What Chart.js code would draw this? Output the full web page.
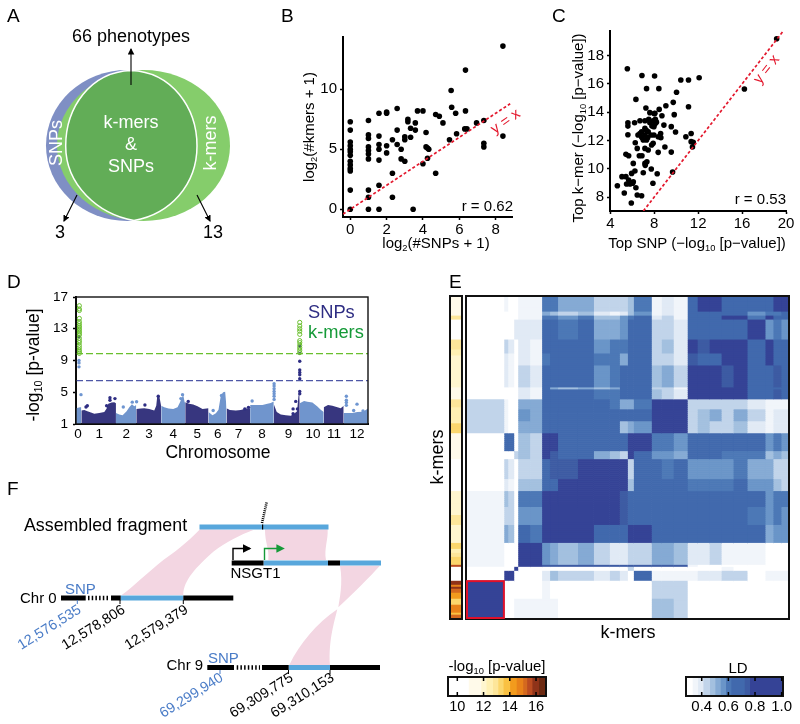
<!DOCTYPE html>
<html>
<head>
<meta charset="utf-8">
<script src="https://cdn.jsdelivr.net/npm/chart.js@4/dist/chart.umd.js"></script>
<style>
body { margin: 0; background: #fff; width: 800px; height: 724px; overflow: hidden; position: relative; }
canvas { position: absolute; }
svg { position: absolute; left: 0; top: 0; }
text { font-family: "Liberation Sans", Arial, sans-serif; fill: #000; }
.w text, text.w { fill: #fff; }
.sub { font-size: 0.62em; }
</style>
</head>
<body>
<div id="plots"></div>

<svg width="800" height="724" viewBox="0 0 800 724">
  <defs>
    <marker id="head" markerWidth="7" markerHeight="7" refX="5" refY="3" orient="auto"><path d="M0,0 L6,3 L0,6 Z" fill="#000"/></marker>
    <marker id="headG" markerWidth="7" markerHeight="7" refX="4" refY="3" orient="auto"><path d="M0,0 L6,3 L0,6 Z" fill="#159a38"/></marker>
  </defs>

  <!-- panel letters -->
  <g font-size="19">
    <text x="7" y="22">A</text><text x="281" y="22">B</text><text x="552" y="22">C</text>
    <text x="7" y="288">D</text><text x="449" y="288">E</text><text x="7" y="495">F</text>
  </g>

  <!-- A: venn -->
  <ellipse cx="127" cy="145.5" rx="81" ry="75.5" fill="#7f8fc4"/>
  <ellipse cx="143.5" cy="145.5" rx="86.5" ry="75.5" fill="#85cd6b"/>
  <path d="M131,70.5 C172,72 197,108 197,146 C197,185 170,214 134,220.5 C98,214 65.7,185 65.7,146 C65.7,108 90,72 131,70.5 Z" fill="#62ad57" stroke="#fff" stroke-width="1.5"/>
  <g font-size="18" text-anchor="middle">
    <text x="131" y="42">66 phenotypes</text>
    <text class="w" x="131" y="128">k-mers</text>
    <text class="w" x="131" y="150">&amp;</text>
    <text class="w" x="131" y="172">SNPs</text>
    <text class="w" transform="translate(62,143) rotate(-90)">SNPs</text>
    <text class="w" transform="translate(216,143) rotate(-90)">k-mers</text>
    <text x="60" y="238">3</text>
    <text x="213" y="238">13</text>
  </g>
  <g stroke="#000" stroke-width="1.1" fill="none" marker-end="url(#head)">
    <line x1="131" y1="85" x2="131" y2="49"/>
    <line x1="77" y1="195" x2="64" y2="221"/>
    <line x1="197" y1="195" x2="210" y2="221"/>
  </g>

  <!-- B labels -->
  <g font-size="15">
    <text text-anchor="middle" x="436" y="248">log<tspan class="sub" dy="3">2</tspan><tspan dy="-3">(#SNPs + 1)</tspan></text>
    <text text-anchor="middle" transform="translate(314,127) rotate(-90)">log<tspan class="sub" dy="3">2</tspan><tspan dy="-3">(#kmers + 1)</tspan></text>
    <text text-anchor="end" x="513" y="211">r = 0.62</text>
    <text text-anchor="middle" transform="translate(508,125) rotate(-35)" style="fill:#e3182d">y = x</text>
  </g>

  <!-- C labels -->
  <g font-size="15">
    <text text-anchor="middle" x="697" y="248">Top SNP (−log<tspan class="sub" dy="3">10</tspan><tspan dy="-3"> [p−value])</tspan></text>
    <text text-anchor="middle" transform="translate(583,128) rotate(-90)">Top k−mer (−log<tspan class="sub" dy="3">10</tspan><tspan dy="-3"> [p−value])</tspan></text>
    <text text-anchor="end" x="786" y="204">r = 0.53</text>
    <text text-anchor="middle" transform="translate(770,72) rotate(-52)" style="fill:#e3182d">y = x</text>
  </g>

  <!-- D labels -->
  <text font-size="17.5" text-anchor="middle" transform="translate(39,365) rotate(-90)">-log<tspan class="sub" dy="3">10</tspan><tspan dy="-3"> [p-value]</tspan></text>
  <text font-size="17.5" text-anchor="middle" x="218" y="458">Chromosome</text>
  <text font-size="18.3" x="308" y="318" style="fill:#2e2d83">SNPs</text>
  <text font-size="18.3" x="308" y="338" style="fill:#159a38">k-mers</text>

  <!-- E labels -->
  <text font-size="18" text-anchor="middle" x="628" y="638">k-mers</text>
  <text font-size="18" text-anchor="middle" transform="translate(443,457) rotate(-90)">k-mers</text>
  <text font-size="15" text-anchor="middle" x="497" y="671">-log<tspan class="sub" dy="3">10</tspan><tspan dy="-3"> [p-value]</tspan></text>
  <text font-size="15" text-anchor="middle" x="738" y="673">LD</text>

  <!-- F: ribbons -->
  <g transform="translate(0,480) scale(0.3333)" fill="#f3d6e2">
    <path d="M600,148 C560,190 520,220 490,240 C440,280 400,320 365,345 L550,345 C550,300 590,260 640,215 C680,185 720,165 760,150 Z"/>
    <path d="M795,148 C795,190 808,205 805,240 L978,240 C972,205 985,180 983,148 Z"/>
    <path d="M1020,257 C1030,310 1018,360 1015,382 C1060,340 1110,290 1140,257 Z"/>
    <path d="M1012,388 C950,430 900,490 868,555 L990,555 C985,480 1005,420 1012,388 Z"/>
  </g>
  <!-- F: tracks -->
  <g fill="#58a7dc">
    <rect x="199.5" y="524.5" width="129" height="5"/>
    <rect x="263.5" y="560.5" width="64.5" height="5"/>
    <rect x="340" y="560.5" width="41" height="5"/>
    <rect x="120.7" y="595.5" width="62.6" height="5"/>
    <rect x="288.7" y="665" width="41.3" height="5"/>
  </g>
  <g fill="#000">
    <rect x="262" y="524.5" width="1.2" height="5"/>
    <rect x="231.7" y="560.5" width="31.8" height="5"/>
    <rect x="328" y="560.5" width="12" height="5"/>
    <rect x="61" y="595.5" width="24.7" height="5"/>
    <rect x="111" y="595.5" width="9.7" height="5"/>
    <rect x="183.3" y="595.5" width="50" height="5"/>
    <rect x="207.3" y="665" width="26.7" height="5"/>
    <rect x="262" y="665" width="26.7" height="5"/>
    <rect x="330" y="665" width="50" height="5"/>
  </g>
  <g stroke="#000" fill="none">
    <line x1="262" y1="523" x2="266.7" y2="502" stroke-width="2.6" stroke-dasharray="1,1"/>
    <line x1="88" y1="598" x2="110" y2="598" stroke-width="4.5" stroke-dasharray="1.5,2.2"/>
    <line x1="236.7" y1="667.5" x2="260" y2="667.5" stroke-width="4.5" stroke-dasharray="1.5,2.2"/>
    <path d="M233,560 V548.5 H250" stroke-width="1.4" marker-end="url(#head)"/>
    <path d="M264.5,560 V548.5 H282" stroke="#159a38" stroke-width="1.4" marker-end="url(#headG)"/>
    <path d="M120,600 V604 M183.3,600 V604 M288.5,670 V674 M330,670 V674" stroke-width="1"/>
    <path d="M77.3,600 V604 M220,670 V674" stroke="#4a7cc7" stroke-width="1"/>
  </g>
  <text font-size="17.8" x="24" y="531">Assembled fragment</text>
  <text font-size="15" x="230.5" y="578">NSGT1</text>
  <text font-size="15" x="20" y="602.5">Chr 0</text>
  <text font-size="15" x="166.5" y="669.5">Chr 9</text>
  <text font-size="15" x="65" y="594" style="fill:#4a7cc7">SNP</text>
  <text font-size="15" x="208" y="663" style="fill:#4a7cc7">SNP</text>
  <g font-size="14.3" text-anchor="end">
    <text transform="translate(82,612) rotate(-32)" style="fill:#4a7cc7">12,576,535</text>
    <text transform="translate(126,612) rotate(-32)">12,578,806</text>
    <text transform="translate(189,612) rotate(-32)">12,579,379</text>
    <text transform="translate(224,680) rotate(-32)" style="fill:#4a7cc7">69,299,940</text>
    <text transform="translate(294,680) rotate(-32)">69,309,775</text>
    <text transform="translate(335,680) rotate(-32)">69,310,153</text>
  </g>
</svg>

<script>
// B: top hits per phenotype
const bSnpLog = [0,0,0,0,0,0,0,0,0,0,0,0,0, 1,1,1,1,1,1,1,1,1,1, 1.58,1.58,1.58,1.58,1.58,1.58,1.58, 2,2,2,2, 2.32,2.32,2.32, 2.58,2.58,2.58, 2.8,2.8, 3,3,3, 3.17,3.17, 3.32,3.32, 3.46, 3.58,3.58, 3.7, 4,4, 4.17,4.17, 4.25,4.25, 4.32, 4.7,4.7, 4.9, 5.1, 5.46, 5.55, 5.58, 5.8, 5.85, 6.3, 6.34,6.34, 6.42, 6.95, 7.35,7.35,7.35, 8.4,8.4];
const bKmerLog = [0,1.6,3.2,3.4,3.7,4,4.5,4.8,5,5.3,5.6,6.6,7.3, 0,1,1.6,4.2,4.6,4.9,5.2,5.9,6.2,7.4, 0,2,4.1,5,5.4,6.1,8, 4.7,5.3,8,8.1, 1,3,5.8, 5.4,6.6,8.4, 5,4.2, 4,5.8,6.05, 7.5,7.3, 6.75,6, 0, 7.2,6.6, 8.2, 8.2,3.8, 6.4,5.2, 4.25,5.1, 5, 3,7.9, 7.75, 7.2, 5.8, 9.9, 8.5, 8, 6.3, 6.7, 11.6,8.2, 6.7, 7.2, 7.4,5.5,5.2, 13.6,6.1];
const bXTicks = [0, 2, 4, 6, 8];
const bYTicks = [0, 5, 10];

// C: strongest association per phenotype
const cSnpTop = [5.55,6.88,8.03,7.3,8.42,6.33,10.42,11.12,12.09,10.03,9.73,9.06,11.12,7.24,8.45,7.6,8.06,8.7,9.82,5.6,5.6,6.21,6.7,7.15,7.6,8.06,7.97,7.79,8.88,9.55,9.94,5.6,6.52,6.85,7.15,7.45,7.7,7.15,6.85,7,7.3,7.97,8.36,8.58,10.88,11.36,6.27,6.45,7.15,7.76,7.45,8.36,8.97,9.55,11.36,11.55,11.48,5.42,5.67,6.64,6.88,6.09,7.15,7.33,7.18,7.73,9.67,6.24,5.94,7,8.27,5.06,5.42,5.67,6.09,5.48,5.79,4.64,6.03,6.33,7.88,5.27,6.45,6.85,5.91,19.15,16.21,6.7,7.3,7.5,8.1,7.9,8.2,8,6.9,7.4,8.6,7.9];
const cKmerTop = [17.08,16.6,16.56,15.67,15.67,14.91,16.28,16.28,16.44,15.41,14.7,14.46,14.39,14.3,14.2,13.97,13.92,13.75,13.83,13.26,13.02,13.26,13.4,13.4,13.26,13.17,12.98,13.02,13.09,12.98,12.6,12.41,12.39,12.62,12.86,12.62,12.39,12.39,12.27,12.03,12.03,12.39,12.27,12.5,12.27,12.5,11.84,11.44,11.44,11.68,11.33,11.16,11.54,11.18,11.92,11.87,11.54,11.02,10.92,10.92,10.92,10.38,10.38,10.5,10.24,9.98,9.77,9.84,9.67,9.72,9.65,9.44,9.44,9.2,9.08,8.92,8.92,8.8,8.97,8.66,8.97,8.28,8.14,8.09,7.58,19.2,15.64,12.5,12.7,13.5,13.5,13.4,13.3,13.9,12.2,12.2,12.2,11.8];
const cXTicks = [4, 8, 12, 16, 20];
const cYTicks = [8, 10, 12, 14, 16, 18];

// D: manhattan plot, positions along the genome
const chromLabels = ['0','1','2','3','4','5','6','7','8','9','10','11','12'];
const chromEdges = [0,16,120,181,256,328,398,452,523,594,672,744,804,877];
const chromCentres = [6,70,151,219,292,364,426,488,559,638,712,775,844];
const manhattanPos = [0,6,12,16, 16,25,34,45,55,70,85,92,97,107,115,120, 120,130,140,152,160,168,175,181, 181,195,205,220,235,241,244,250,256, 256,265,278,292,305,312,318,322,326,328, 328,340,352,365,380,398, 398,410,420,428,435,442,448,452, 452,462,480,495,510,523, 523,540,560,575,585,592,594, 594,603,615,630,645,655,664,668,671,672, 672,685,695,710,725,735,744, 744,757,770,785,795,804, 804,815,830,845,862,877];
const manhattanTop = [3.0,3.05,3.1,3.1, 2.7,2.75,2.6,2.45,2.3,2.4,2.5,2.95,3.55,3.7,3.75,3.6, 2.4,2.2,2.1,2.6,3.1,3.5,3.25,3.4, 2.9,2.95,3.0,2.9,2.7,3.3,4.5,4.55,3.2, 3.3,3.1,2.95,2.9,3.1,3.7,4.3,4.7,3.8,3.6, 3.75,3.55,3.45,3.25,2.9,3.0, 2.5,2.1,2.35,2.8,4.6,5.0,5.05,3.1, 3.0,2.75,2.7,2.75,2.95,3.0, 3.4,3.4,3.4,3.55,3.65,3.8,4.0, 3.5,2.5,2.2,2.1,2.05,2.3,2.6,4.5,5.1,3.6, 3.6,3.9,3.8,3.7,3.2,2.8,2.5, 3.1,3.4,3.3,3.1,3.0,3.3, 2.4,2.4,2.4,2.5,2.55,2.95];
const lightSnpPos = [595,595,595,595,595,595,595,9,9,9,15,320,315,812,812,812,812,844,834,862,142,169,182,437,529,412];
const lightSnpP = [6.08,5.8,5.45,5.1,4.8,4.5,4.1,9.0,8.7,8.2,4.7,4.7,4.2,4.5,4.0,3.7,3.35,3.5,2.7,2.65,3.15,3.75,3.8,4.6,3.9,2.7];
const darkSnpPos = [30,34,102,102,117,92,207,247,337,507,518,652,652,660,665,672,672,672,672,672,672,672,672,672,9];
const darkSnpP = [3.14,3.3,4.3,4,4.2,3.3,3.4,4.5,3.85,2.9,3.1,2.9,2.3,3.85,2.9,5.1,4.8,6.7,7.2,7.5,7.8,8.9,9.9,10.8,12];
const kmerPos = [10,10,10,10,10,10,10,10,10,10,10,10,10,10,10,10,10,10,10,10,10, 672,672,672,672,672,672,672,672,672,672,672];
const kmerP = [15.9,15.5,15.3,14.3,13.9,13.65,13.4,13.2,13,12.8,12.6,12.4,12.2,11.8,11.5,11.25,10.9,10.6,10.3,10.1,9.9, 13.8,13.35,13,12.7,12.3,11.5,11.25,10.9,10.6,10.3,10];
const snpThreshold = 6.46;
const kmerThreshold = 9.87;
const dYTicks = [1, 5, 9, 13, 17];

// E: LD between k-mer blocks (x100), rows top to bottom
const kmersPerColBlock = [19,2,3,2,6,6,4,4,10,8,8,5,4,3,9,5,6,7,5,6,6,6,7,9,4,4,4];
const kmersPerRowBlock = [8,2,2,10,7,6,11,1,5,5,6,6,9,4,10,6,8,9,9,11,1,2,5,9,10];
const ldBlocks = [
  [30,36,33,30,36,36,60,60,54,54,46,44,44,50,60,36,40,35,72,80,82,70,66,68,68,84,84],
  [30,33,31,30,34,34,52,48,44,48,38,36,40,48,56,36,40,35,70,66,66,72,70,56,60,62,66],
  [30,33,31,30,36,36,62,60,56,60,50,48,55,60,68,38,42,36,68,68,66,84,84,62,84,68,66],
  [30,31,30,38,38,38,70,70,62,68,52,52,56,68,68,42,44,38,68,66,64,68,68,84,55,60,56],
  [30,44,40,30,38,36,68,70,70,70,58,62,60,66,70,46,50,40,82,76,80,84,84,68,82,68,66],
  [30,38,36,30,38,36,60,70,70,70,60,62,52,66,70,44,46,40,76,72,72,84,84,68,84,70,66],
  [30,38,34,33,44,40,70,70,70,70,56,60,66,70,70,50,54,42,84,84,84,76,80,70,72,76,72],
  [30,33,30,30,38,36,66,52,50,52,50,52,66,70,70,46,44,36,84,84,84,80,84,70,70,72,70],
  [30,33,30,30,38,36,70,70,70,70,60,62,66,70,70,48,44,38,84,84,84,82,84,68,72,76,70],
  [42,34,32,30,54,54,70,70,70,70,66,62,52,52,62,86,86,86,42,46,46,42,46,38,36,36,36],
  [46,34,32,30,58,52,70,70,70,70,68,66,66,66,68,86,86,86,46,50,54,46,52,42,36,40,38],
  [44,34,32,30,54,52,70,70,70,70,66,66,50,52,58,86,86,86,46,48,46,44,48,40,36,38,38],
  [32,70,70,30,48,46,78,82,70,70,66,68,68,84,84,62,60,56,68,68,68,68,68,68,58,62,58],
  [30,30,33,44,48,46,82,76,70,70,54,48,42,86,70,56,56,52,68,66,66,60,62,60,48,52,48],
  [32,44,40,30,46,42,70,76,76,80,85,85,85,46,68,68,62,66,56,58,58,58,62,52,52,46,44],
  [32,38,36,30,50,48,72,70,82,84,85,85,85,48,68,68,66,68,60,62,60,62,64,56,58,50,44],
  [36,48,46,30,62,62,85,85,85,85,78,84,74,68,68,68,68,68,66,68,68,68,68,68,58,62,60],
  [36,46,44,30,58,58,85,85,85,85,78,84,74,68,68,68,68,68,68,68,68,68,66,62,58,60,58],
  [36,52,48,30,66,62,85,85,85,85,72,70,70,80,78,70,70,70,70,70,70,72,68,68,54,58,58],
  [35,31,30,30,85,85,58,54,50,52,44,40,40,46,44,52,52,50,40,38,42,34,34,34,33,33,33],
  [36,33,30,30,80,80,76,76,76,76,76,76,76,76,76,76,76,76,34,33,33,33,33,33,33,33,33],
  [30,31,30,85,31,31,33,33,33,33,33,33,33,42,33,33,33,33,32,32,32,34,32,31,31,31,31],
  [30,82,84,30,30,31,40,48,44,44,38,44,38,32,72,34,34,36,35,38,38,42,44,31,36,36,36],
  [85,30,30,30,33,33,34,33,33,33,30,30,30,30,30,46,46,44,30,30,30,30,30,30,30,30,30],
  [85,30,30,34,36,35,35,34,32,32,31,31,30,30,30,50,50,46,33,33,30,30,30,30,30,30,30]
];
// -log10 p of each k-mer block, strip left of the heatmap
const stripSpans = [10,2,10,5,3,16,6,4,8,5,13,16,12,5,9,3,2,2,4,1,7,2,1,1,2,3,3,4,1,2];
const stripP = [11.8,13,10.5,13.1,12.7,12.2,11.8,13.1,12.7,13.5,11.5,10.5,12.2,13.1,12.2,13.5,12.7,13.1,13.5,15.7,10.5,16.1,14.8,16.2,15.2,14.4,13.2,14.6,14,15.2];

// colour bars
const pBreaks = [9.29,10.85,11.8,12.2,12.7,13.1,13.5,14,14.5,15,15.3,15.7,16.2,16.76];
const pColors = ['#ffffff','#fffaea','#fff6cf','#fff0b3','#fde69a','#fbd66c','#f9c143','#f29b1d','#e8821a','#d4691f','#bb4c21','#8f3319','#6d2a12'];
const pTicks = [10, 12, 14, 16];
const ldBreaks = [0.282,0.33,0.37,0.41,0.46,0.5,0.54,0.58,0.62,0.72,0.76,1.01];
const ldColors = ['#ffffff','#f1f5fa','#e1eaf5','#c1d4ea','#a3c0df','#85aad4','#6a95c8','#4c78b6','#4169ad','#3d5ba3','#354396'];
const ldTicks = [0.4, 0.6, 0.8, 1.0];

Chart.defaults.font.family = '"Liberation Sans", Arial, sans-serif';
Chart.defaults.color = '#000';
Chart.defaults.animation = false;
Chart.defaults.events = [];
Chart.defaults.plugins.legend.display = false;
Chart.defaults.plugins.tooltip.enabled = false;

function zip(xs, ys) { return xs.map((x, i) => ({x: x, y: ys[i]})); }
function pick(breaks, colors, v) {
    for (let i = 1; i < breaks.length; i++) if (v <= breaks[i]) return colors[i - 1];
    return colors[colors.length - 1];
}
function expand(spans) {
    let out = [];
    spans.forEach((n, i) => { for (let k = 0; k < n; k++) out.push(i); });
    return out;
}

// put a chart so its plot area lands on the given box
function addChart(box, margin, config) {
    let c = document.createElement('canvas');
    c.width = box.r - box.l + margin.left + margin.right;
    c.height = box.b - box.t + margin.top + margin.bottom;
    c.style.left = (box.l - margin.left) + 'px';
    c.style.top = (box.t - margin.top) + 'px';
    document.getElementById('plots').appendChild(c);
    config.options = Object.assign({responsive: false, maintainAspectRatio: false,
        layout: {padding: {top: margin.top, right: margin.right, left: margin.noLeftAxis ? margin.left : 0, bottom: margin.noBottomAxis ? margin.bottom : 0}}}, config.options);
    return new Chart(c, config);
}

function axis(min, max, ticks, size, pad, extra) {
    return Object.assign({
        type: 'linear', min: min, max: max,
        afterBuildTicks: s => { s.ticks = ticks.map(v => ({value: v})); },
        ticks: {autoSkip: false, maxRotation: 0, font: {size: size}, padding: pad},
        grid: {drawOnChartArea: false, tickLength: 3, color: '#000', tickWidth: 1.5},
        border: {color: '#000', width: 2}
    }, extra);
}

function frame(width) {
    return {id: 'frame', afterDatasetsDraw(chart) {
        let a = chart.chartArea, ctx = chart.ctx;
        ctx.save();
        ctx.strokeStyle = '#111';
        ctx.lineWidth = width;
        ctx.strokeRect(a.left, a.top, a.right - a.left, a.bottom - a.top);
        ctx.restore();
    }};
}

// scatter panels B and C
function scatter(box, xs, ys, xr, yr, xt, yt, lineEnd) {
    addChart(box, {left: 40, bottom: 28, top: 16, right: 13}, {
        type: 'scatter',
        data: {datasets: [
            {data: lineEnd, showLine: true, borderColor: '#e3182d', borderWidth: 1.7, borderDash: [3, 2.2], pointRadius: 0},
            {data: zip(xs, ys), backgroundColor: '#000', borderWidth: 0, pointRadius: 2.8}
        ]},
        options: {scales: {
            x: axis(xr[0], xr[1], xt, 15, 1, {afterFit: s => { s.height = 28; }}),
            y: axis(yr[0], yr[1], yt, 15, 3, {afterFit: s => { s.width = 40; }})
        }}
    });
}
scatter({l: 343, t: 37, r: 512, b: 217}, bSnpLog, bKmerLog, [-0.4, 8.9], [-0.64, 14.36], bXTicks, bYTicks, [{x: -0.4, y: -0.4}, {x: 8.8, y: 8.8}]);
scatter({l: 610, t: 31, r: 786, b: 211}, cSnpTop, cKmerTop, [3.97, 20], [7.01, 19.75], cXTicks, cYTicks, [{x: 7.01, y: 7.01}, {x: 19.7, y: 19.7}]);

// panel D, one filled outline per chromosome
let genome = zip(manhattanPos, manhattanTop);
let chromSets = chromLabels.map((name, i) => {
    let first = i ? manhattanPos.lastIndexOf(chromEdges[i]) : 0;
    let last = i < chromLabels.length - 1 ? manhattanPos.indexOf(chromEdges[i + 1]) : manhattanPos.length - 1;
    return {
        data: genome.slice(first, last + 1),
        showLine: true, fill: 'start', pointRadius: 0, borderWidth: 0,
        backgroundColor: i % 2 ? '#37367f' : '#7095cd', order: 5
    };
});
addChart({l: 76, t: 297, r: 368, b: 424}, {left: 40, bottom: 22, top: 16, right: 10}, {
    type: 'scatter',
    data: {datasets: [
        {data: zip(kmerPos, kmerP), pointRadius: 2.1, borderColor: '#6abf2e', backgroundColor: 'rgba(255,255,255,0)', borderWidth: 1, order: 1},
        {data: zip(darkSnpPos, darkSnpP), backgroundColor: '#2e2d83', borderWidth: 0, pointRadius: 1.7, order: 3},
        {data: zip(lightSnpPos, lightSnpP), backgroundColor: '#6f96d1', borderWidth: 0, pointRadius: 1.7, order: 3},
        {data: [{x: 0, y: kmerThreshold}, {x: 877, y: kmerThreshold}], showLine: true, borderColor: '#6abf2e', borderWidth: 1.1, borderDash: [7, 3], pointRadius: 0, order: 2},
        {data: [{x: 0, y: snpThreshold}, {x: 877, y: snpThreshold}], showLine: true, borderColor: '#4e57a6', borderWidth: 1.1, borderDash: [7, 3], pointRadius: 0, order: 2}
    ].concat(chromSets)},
    options: {scales: {
        x: axis(0, 877, chromCentres, 13.5, 2, {
            afterFit: s => { s.height = 22; },
            grid: {display: false, drawTicks: false},
            ticks: {autoSkip: false, maxRotation: 0, font: {size: 13.5}, padding: 2, callback: (v, i) => chromLabels[i]}
        }),
        y: axis(1, 17, dYTicks, 13.5, 5, {afterFit: s => { s.width = 40; }})
    }},
    plugins: [frame(1.4)]
});

// panel E: heatmap as stacked horizontal bars
let rowIndex = expand(kmersPerRowBlock);
let ldSets = kmersPerColBlock.map((w, c) => ({
    data: rowIndex.map(() => w),
    backgroundColor: rowIndex.map(r => pick(ldBreaks, ldColors, ldBlocks[r][c] / 100)),
    borderWidth: 0, barPercentage: 1, categoryPercentage: 1
}));
const redBox = {id: 'redBox', afterDatasetsDraw(chart) {
    let x = chart.scales.x, y = chart.scales.y, ctx = chart.ctx;
    let h = y.getPixelForValue(1) - y.getPixelForValue(0);
    let top = y.getPixelForValue(143) - h / 2, bottom = y.getPixelForValue(161) + h / 2;
    ctx.save();
    ctx.strokeStyle = '#e0102a';
    ctx.lineWidth = 2;
    ctx.strokeRect(x.getPixelForValue(0) + 1, top, x.getPixelForValue(19) - x.getPixelForValue(0) - 1, bottom - top - 1);
    ctx.restore();
}};
addChart({l: 466, t: 296, r: 789, b: 619}, {left: 3, right: 3, top: 3, bottom: 3, noLeftAxis: true, noBottomAxis: true}, {
    type: 'bar',
    data: {labels: rowIndex.map((r, i) => i), datasets: ldSets},
    options: {indexAxis: 'y', scales: {
        x: {display: false, stacked: true, min: 0, max: 162},
        y: {display: false, stacked: true}
    }},
    plugins: [frame(2), redBox]
});

let stripRows = expand(stripSpans);
addChart({l: 450, t: 296, r: 462, b: 619}, {left: 3, right: 3, top: 3, bottom: 3, noLeftAxis: true, noBottomAxis: true}, {
    type: 'bar',
    data: {labels: stripRows.map((r, i) => i), datasets: [{
        data: stripRows.map(() => 1),
        backgroundColor: stripRows.map(r => pick(pBreaks, pColors, stripP[r])),
        borderWidth: 0, barPercentage: 1, categoryPercentage: 1
    }]},
    options: {indexAxis: 'y', scales: {
        x: {display: false, min: 0, max: 1},
        y: {display: false}
    }},
    plugins: [frame(2)]
});

// colour bars
const innerTicks = {id: 'innerTicks', afterDatasetsDraw(chart) {
    let a = chart.chartArea, ctx = chart.ctx, s = chart.scales.x;
    ctx.save();
    ctx.strokeStyle = '#000';
    ctx.lineWidth = 1.5;
    s.ticks.forEach(t => {
        let px = s.getPixelForValue(t.value);
        ctx.beginPath();
        ctx.moveTo(px, a.top); ctx.lineTo(px, a.top + 4);
        ctx.moveTo(px, a.bottom); ctx.lineTo(px, a.bottom - 4);
        ctx.stroke();
    });
    ctx.restore();
}};
function colourBar(box, breaks, colors, ticks, size, digits) {
    addChart(box, {left: 16, bottom: 24, top: 3, right: 16, noLeftAxis: true}, {
        type: 'bar',
        data: {labels: [''], datasets: colors.map((col, i) => ({
            data: [[breaks[i], breaks[i + 1]]], backgroundColor: col, borderWidth: 0,
            barPercentage: 1, categoryPercentage: 1, grouped: false
        }))},
        options: {indexAxis: 'y', scales: {
            x: {
                type: 'linear', min: breaks[0], max: breaks[breaks.length - 1],
                afterBuildTicks: s => { s.ticks = ticks.map(v => ({value: v})); },
                afterFit: s => { s.height = 24; },
                ticks: {autoSkip: false, maxRotation: 0, font: {size: size}, padding: 2, callback: v => v.toFixed(digits)},
                grid: {display: false, drawTicks: false}, border: {display: false}
            },
            y: {display: false}
        }},
        plugins: [frame(2), innerTicks]
    });
}
colourBar({l: 448, t: 677, r: 546, b: 696}, pBreaks, pColors, pTicks, 14.5, 0);
colourBar({l: 686, t: 677, r: 783, b: 696}, ldBreaks, ldColors, ldTicks, 15, 1);
</script>
</body>
</html>
